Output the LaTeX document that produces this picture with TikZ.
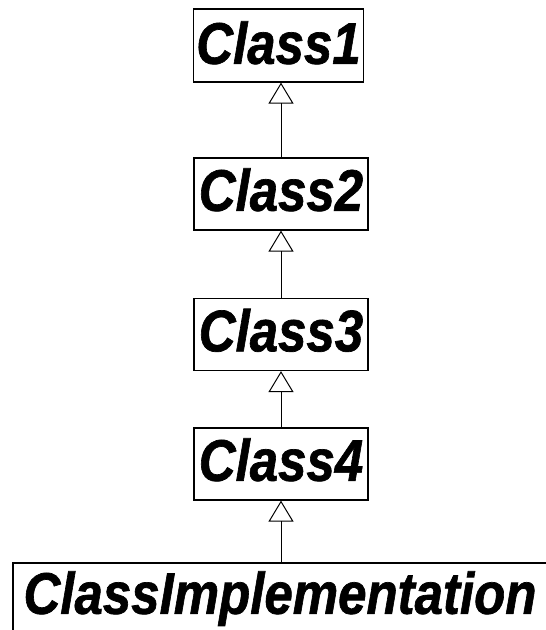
\documentclass[tikz,border=0pt]{standalone}
\usepackage{fontspec}
\setmainfont{Liberation Sans}[BoldItalicFeatures={FakeBold=1.2}]
\usetikzlibrary{arrows.meta}
\newcommand{\clsname}[1]{\scalebox{1}[1.15]{\fontsize{51}{56}\selectfont\bfseries\itshape #1}}
\begin{document}
\begin{tikzpicture}[x=1pt,y=-1pt,
  classbox/.style={draw=black, line width=1.6pt, fill=white, inner sep=0pt, anchor=north,
    text height=53pt, text depth=19pt},
  inherit/.style={draw=black, line width=1pt, -{Triangle[open, length=21pt, width=25pt, line width=1pt]}}
]
\useasboundingbox (0,0) rectangle (546,630);
\clip (0,0) rectangle (546,630);
\fill[white] (0,0) rectangle (546,630);
\node[classbox, minimum width=170pt, text height=55pt, text depth=18pt] (c1) at (278.5,8) {\clsname{Class1}};
\node[classbox, minimum width=174pt] (c2) at (281,157) {\clsname{Class2}};
\node[classbox, minimum width=174pt] (c3) at (281,297.5) {\clsname{Class3}};
\node[classbox, minimum width=174pt] (c4) at (281,427) {\clsname{Class4}};
\node[classbox, minimum width=534pt, text height=51pt, text depth=21pt] (ci) at (280,562) {\clsname{ClassImplementation}};
\coordinate (t1) at (281,0);
\draw[inherit] (c2.north -| t1) -- (c1.south -| t1);
\draw[inherit] (c3.north -| t1) -- (c2.south -| t1);
\draw[inherit] (c4.north -| t1) -- (c3.south -| t1);
\draw[inherit] (ci.north -| t1) -- (c4.south -| t1);
\end{tikzpicture}
\end{document}
